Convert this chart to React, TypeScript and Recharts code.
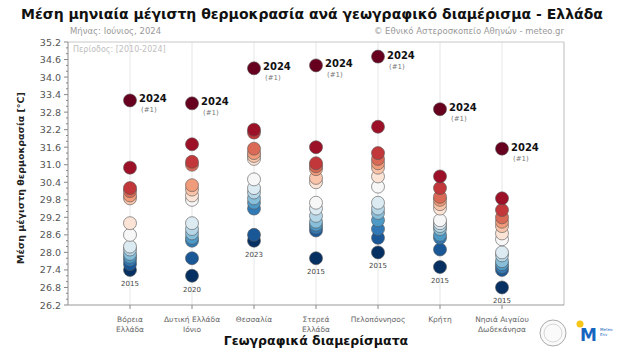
import React from 'react'
import { ScatterChart, Scatter, XAxis, YAxis, CartesianGrid, ReferenceLine } from 'recharts'

// region names (two-line labels)
const REGION_LABELS = [
  ['Βόρεια', 'Ελλάδα'],
  ['Δυτική Ελλάδα', 'Ιόνιο'],
  ['Θεσσαλία'],
  ['Στερεά', 'Ελλάδα'],
  ['Πελοπόννησος'],
  ['Κρήτη'],
  ['Νησιά Αιγαίου', 'Δωδεκάνησα'],
]

// June mean max temperature per region, 2010-2024, highest to lowest (°C)
const VOREIA = [33.2, 30.9, 30.2, 30.1, 29.95, 29.85, 29.0, 28.6, 28.2, 28.1, 27.95, 27.85, 27.75, 27.6, 27.4]
const DYTIKI = [33.1, 31.7, 31.1, 31.0, 30.3, 30.15, 29.95, 29.8, 29.0, 28.8, 28.65, 28.5, 28.4, 27.8, 27.2]
const THESSALIA = [34.3, 32.2, 32.1, 31.55, 31.4, 31.3, 31.2, 30.5, 30.2, 30.05, 29.85, 29.7, 29.5, 28.6, 28.4]
const STEREA = [34.4, 31.6, 31.05, 30.95, 30.85, 30.55, 30.4, 29.7, 29.5, 29.25, 29.05, 28.95, 28.85, 28.75, 27.8]
const PELOPONNISOS = [34.7, 32.3, 31.4, 31.2, 31.05, 30.9, 30.6, 30.25, 29.7, 29.5, 29.35, 29.1, 28.8, 28.5, 28.0]
const KRITI = [32.9, 30.6, 30.2, 29.9, 29.8, 29.65, 29.5, 29.1, 29.0, 28.9, 28.8, 28.6, 28.5, 28.1, 27.5]
const NISIA = [31.55, 29.85, 29.45, 29.2, 29.05, 28.9, 28.65, 28.45, 28.0, 27.9, 27.7, 27.6, 27.5, 27.4, 26.8]

const SERIES = [VOREIA, DYTIKI, THESSALIA, STEREA, PELOPONNISOS, KRITI, NISIA]
const MAX_YEARS = ['2024', '2024', '2024', '2024', '2024', '2024', '2024']
const MIN_YEARS = ['2015', '2020', '2023', '2015', '2015', '2015', '2015']

const Y_MAJOR = ['26.2', '26.8', '27.4', '28.0', '28.6', '29.2', '29.8', '30.4', '31.0', '31.6', '32.2', '32.8', '33.4', '34.0', '34.6', '35.2']
const X_TICKS = [1, 2, 3, 4, 5, 6, 7]

// RdBu reversed
const RDBU = ['#053061', '#2166ac', '#4393c3', '#92c5de', '#d1e5f0', '#f7f7f7', '#fddbc7', '#f4a582', '#d6604d', '#b2182b', '#67001f']

const hex = (c: string) => [1, 3, 5].map(i => parseInt(c.slice(i, i + 2), 16))
const rankColor = (t: number) => {
  const p = t * (RDBU.length - 1)
  const i = Math.min(Math.floor(p), RDBU.length - 2)
  const f = p - i
  const a = hex(RDBU[i]), b = hex(RDBU[i + 1])
  return `rgb(${a.map((v, k) => Math.round(v + (b[k] - v) * f)).join(',')})`
}

const FONT = 'DejaVu Sans'

const points: any[] = []
SERIES.forEach((vals, r) => {
  const n = vals.length
  vals.forEach((v, i) => {
    points.push({
      x: r + 1,
      y: v,
      color: rankColor((n - 1 - i) / (n - 1)),
      maxYear: i === 0 ? MAX_YEARS[r] : null,
      minYear: i === n - 1 ? MIN_YEARS[r] : null,
    })
  })
})
points.reverse()

// minor ticks every 0.2
const yTicks: number[] = []
for (let i = 0; i <= 45; i++) yTicks.push(Math.round((26.2 + i * 0.2) * 10) / 10)

const YTick = ({ x, y, payload }: any) => {
  const major = Y_MAJOR.includes(payload.value.toFixed(1))
  return (
    <g>
      <line x1={x} x2={x - (major ? 4 : 2)} y1={y} y2={y} stroke="#888" strokeWidth={1} />
      {major && (
        <text x={x - 7} y={y} dy={3.5} textAnchor="end" fontSize={9.5} fill="#555" fontFamily={FONT}>
          {payload.value.toFixed(1)}
        </text>
      )}
    </g>
  )
}

const XTick = ({ x, y, payload }: any) => {
  const lines = REGION_LABELS[payload.value - 1] || []
  return (
    <g>
      <line x1={x} x2={x} y1={y} y2={y + 4} stroke="#888" strokeWidth={1} />
      {lines.map((l, i) => (
        <text key={i} x={x} y={y + 17 + i * 10} textAnchor="middle" fontSize={7.5} fill="#666" fontFamily={FONT}>
          {l}
        </text>
      ))}
    </g>
  )
}

const Dot = ({ cx, cy, payload }: any) => (
  <g>
    <circle cx={cx} cy={cy} r={6.5} fill={payload.color} stroke="#555" strokeWidth={0.6} />
    {payload.maxYear && (
      <>
        <text x={cx + 9} y={cy + 2} fontSize={10} fontWeight="bold" fill="#111" fontFamily={FONT}>{payload.maxYear}</text>
        <text x={cx + 11} y={cy + 12} fontSize={7} fill="#777" fontFamily={FONT}>(#1)</text>
      </>
    )}
    {payload.minYear && (
      <text x={cx} y={cy + 16} textAnchor="middle" fontSize={7} fill="#444" fontFamily={FONT}>{payload.minYear}</text>
    )}
  </g>
)

export default function App() {
  return (
    <div style={{ position: 'absolute', left: 0, top: 0, width: 624, height: 356, background: '#fff', fontFamily: FONT, overflow: 'hidden' }}>
      <div style={{ position: 'absolute', left: 0, width: 624, top: 6, textAlign: 'center', fontSize: 14, fontWeight: 'bold', color: '#111', whiteSpace: 'nowrap' }}>
        Μέση μηνιαία μέγιστη θερμοκρασία ανά γεωγραφικό διαμέρισμα - Ελλάδα
      </div>
      <div style={{ position: 'absolute', left: 70, top: 26, fontSize: 8.5, color: '#999' }}>Μήνας: Ιούνιος, 2024</div>
      <div style={{ position: 'absolute', right: 60, top: 26, fontSize: 8.5, color: '#999', whiteSpace: 'nowrap' }}>© Εθνικό Αστεροσκοπείο Αθηνών - meteo.gr</div>

      <ScatterChart width={624} height={356} margin={{ top: 42, right: 60, bottom: 21, left: 28 }}>
        <CartesianGrid horizontal={false} stroke="#e6e6e6" />
        <XAxis
          type="number"
          dataKey="x"
          domain={[0, 8]}
          ticks={X_TICKS}
          interval={0}
          tick={<XTick />}
          tickLine={false}
          tickSize={0}
          tickMargin={0}
          height={30}
          axisLine={{ stroke: '#999' }}
        />
        <YAxis
          type="number"
          dataKey="y"
          domain={[26.2, 35.2]}
          ticks={yTicks}
          interval={0}
          tick={<YTick />}
          tickLine={false}
          tickSize={0}
          tickMargin={0}
          width={40}
          axisLine={{ stroke: '#999' }}
        />
        <ReferenceLine y={35.2} stroke="#c8c8c8" />
        <ReferenceLine x={8} stroke="#c8c8c8" />
        <Scatter data={points} shape={<Dot />} isAnimationActive={false} />
      </ScatterChart>

      <div style={{ position: 'absolute', left: 73, top: 45, fontSize: 8, color: '#c0c0c0' }}>Περίοδος: [2010-2024]</div>
      <div style={{ position: 'absolute', left: 20, top: 178, transform: 'translate(-50%, -50%) rotate(-90deg)', fontSize: 9.5, fontWeight: 'bold', color: '#222', whiteSpace: 'nowrap' }}>
        Μέση μέγιστη θερμοκρασία [°C]
      </div>
      <div style={{ position: 'absolute', left: 316, top: 340, transform: 'translate(-50%, -50%)', fontSize: 12.5, fontWeight: 'bold', color: '#111', whiteSpace: 'nowrap' }}>
        Γεωγραφικά διαμερίσματα
      </div>

      <svg style={{ position: 'absolute', left: 536, top: 316 }} width={88} height={36}>
        <circle cx={17} cy={17} r={13} fill="#fafafa" stroke="#aaa" strokeWidth={1} />
        <circle cx={17} cy={17} r={9} fill="none" stroke="#ccc" strokeWidth={0.8} />
        <circle cx={44} cy={8} r={3.5} fill="#f5c518" />
        <text x={44} y={25} fontSize={17} fontWeight="bold" fill="#1565c0" fontFamily={FONT}>M</text>
        <text x={64} y={15} fontSize={4} fill="#1565c0" fontFamily={FONT}>Meteo</text>
        <text x={64} y={20} fontSize={4} fill="#1565c0" fontFamily={FONT}>Env</text>
      </svg>
    </div>
  )
}
